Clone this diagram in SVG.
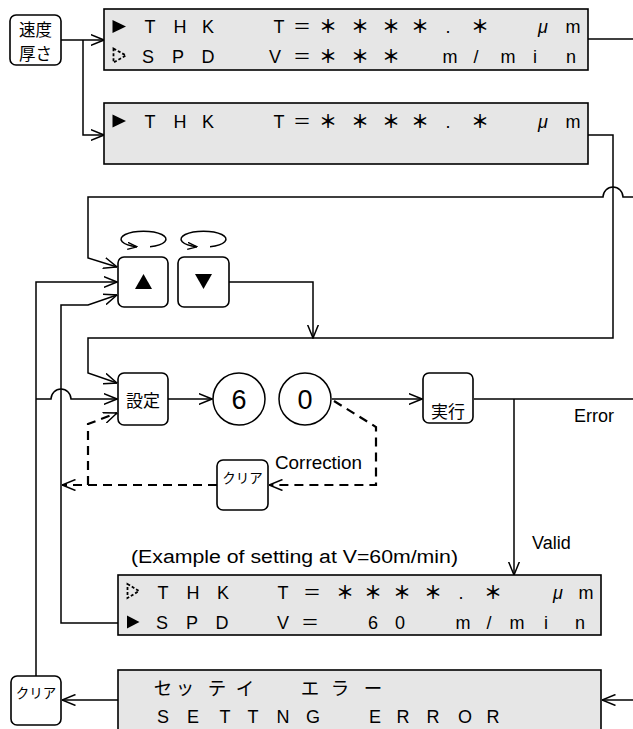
<svg xmlns="http://www.w3.org/2000/svg" width="633" height="729" viewBox="0 0 633 729">
<style>
.lcd{fill:#e6e6e6;stroke:#000;stroke-width:1.6}
.box{fill:#fff;stroke:#000;stroke-width:1.6}
.ln{fill:none;stroke:#000;stroke-width:1.5}
.dash{fill:none;stroke:#000;stroke-width:2.2;stroke-dasharray:9 6}
.lt{font-family:"Liberation Sans","Noto Sans CJK JP",sans-serif;font-size:18px;fill:#000;text-anchor:middle}
.st{font-family:"Noto Sans CJK JP",sans-serif;font-size:18px;font-weight:bold;fill:#000;text-anchor:middle}
.kt{font-family:"Noto Sans CJK JP",sans-serif;font-size:18.5px;fill:#000;text-anchor:middle}
.mu{font-family:"Liberation Sans",sans-serif;font-size:18px;font-style:italic;fill:#000;text-anchor:middle}
.lab{font-family:"Liberation Sans",sans-serif;font-size:18px;fill:#000}
.jp{font-family:"Noto Sans CJK JP",sans-serif;fill:#000;text-anchor:middle}
.dig{font-family:"Liberation Sans",sans-serif;font-size:27px;fill:#000;text-anchor:middle}
.tri{fill:#000}
.otri{fill:none;stroke:#000;stroke-width:1.8;stroke-dasharray:3 2}
</style>
<defs>
<marker id="a" viewBox="0 0 14 12" refX="13.5" refY="6" markerWidth="14" markerHeight="12" markerUnits="userSpaceOnUse" orient="auto">
<path d="M0,0.5 L13.5,6 L0,11.5" fill="none" stroke="#000" stroke-width="1.5" stroke-dasharray="none"/>
</marker>
<marker id="s" viewBox="0 0 10 8" refX="9.5" refY="4" markerWidth="10" markerHeight="8" markerUnits="userSpaceOnUse" orient="auto">
<path d="M0,0.5 L9.5,4 L0,7.5" fill="none" stroke="#000" stroke-width="1.3"/>
</marker>
</defs>

<g id="connectors">
<path class="ln" d="M61,40 H104" marker-end="url(#a)"/>
<path class="ln" d="M83,40 V135 H104" marker-end="url(#a)"/>
<path class="ln" d="M588,39 H633"/>
<path class="ln" d="M588,135 H613 V338 H88 V373 L117,383" marker-end="url(#a)"/>
<path class="ln" d="M633,197 H623 A10,10 0 0 0 603,197 H88 V258 L117,267" marker-end="url(#a)"/>
<path class="ln" d="M229,282 H313 V338" marker-end="url(#a)"/>
<path class="ln" d="M36,676 V282 H117" marker-end="url(#a)"/>
<path class="ln" d="M118,623 H61 V305 H88 L117,295" marker-end="url(#a)"/>
<path class="ln" d="M36,399 H51 A10,10 0 0 1 71,399 H117" marker-end="url(#a)"/>
<path class="ln" d="M168,399 H212" marker-end="url(#a)"/>
<path class="ln" d="M332,399 H422" marker-end="url(#a)"/>
<path class="ln" d="M474,399 H633"/>
<path class="ln" d="M514,399 V575" marker-end="url(#a)"/>
<path class="dash" d="M334,401 L376,427 V485 H269" marker-end="url(#a)"/>
<path class="dash" d="M217,485 H62" marker-end="url(#a)"/>
<path class="dash" d="M88,485 V424 L117,413" marker-end="url(#a)"/>
<path class="ln" d="M633,700 H602" marker-end="url(#a)"/>
<path class="ln" d="M118,700 H62" marker-end="url(#a)"/>
<path class="ln" d="M150,246.8 A22.5,8 0 1 0 137,246.8" marker-end="url(#s)"/>
<path class="ln" d="M210,246.8 A22.5,8 0 1 0 197,246.8" marker-end="url(#s)"/>
</g>

<g id="speed-thickness">
<rect class="box" x="10" y="15" width="51" height="50" rx="6"/>
<text class="jp" x="35.5" y="35.5" font-size="16.5">速度</text>
<text class="jp" x="35.5" y="59.5" font-size="16.5">厚さ</text>
</g>

<g id="lcd1">
<rect class="lcd" x="104" y="9" width="484" height="61"/>
<polygon class="tri" points="112.5,20 126,26.5 112.5,33"/>
<text class="lt" x="150 180 208 279 302" y="33">THKT＝</text>
<text class="st" x="328 360 391 420" y="33">＊＊＊＊</text>
<text class="lt" x="448" y="33">.</text>
<text class="st" x="480" y="33">＊</text>
<text class="mu" x="543" y="33">μ</text>
<text class="lt" x="573" y="33">m</text>
<polygon class="otri" points="113.5,48.5 126,55.5 113.5,62.5"/>
<text class="lt" x="148 178 208 275 302" y="62.5">SPDV＝</text>
<text class="st" x="328 360 391" y="62.5">＊＊＊</text>
<text class="lt" x="450 476 508 535 571" y="62.5">m/min</text>
</g>

<g id="lcd2">
<rect class="lcd" x="104" y="103" width="484" height="61"/>
<polygon class="tri" points="112.5,114.5 126,121 112.5,127.5"/>
<text class="lt" x="150 180 208 279 302" y="127.5">THKT＝</text>
<text class="st" x="328 360 391 420" y="127.5">＊＊＊＊</text>
<text class="lt" x="448" y="127.5">.</text>
<text class="st" x="480" y="127.5">＊</text>
<text class="mu" x="543" y="127.5">μ</text>
<text class="lt" x="573" y="127.5">m</text>
</g>

<g id="up-key">
<rect class="box" x="118" y="257" width="50" height="50" rx="6"/>
<polygon class="tri" points="143.5,274 152,289 135,289"/>
</g>
<g id="down-key">
<rect class="box" x="178" y="257" width="51" height="50" rx="6"/>
<polygon class="tri" points="195,274 212,274 203.5,289"/>
</g>

<g id="set-key">
<rect class="box" x="118" y="373" width="50" height="52" rx="6"/>
<text class="jp" x="143" y="407" font-size="17">設定</text>
</g>

<g id="digit-6">
<circle cx="239" cy="399" r="26" fill="#fff" stroke="#000" stroke-width="1.5"/>
<text class="dig" x="239" y="409">6</text>
</g>
<g id="digit-0">
<circle cx="305" cy="399" r="26" fill="#fff" stroke="#000" stroke-width="1.5"/>
<text class="dig" x="305" y="409">0</text>
</g>

<g id="execute-key">
<rect class="box" x="423" y="373" width="50" height="50" rx="6"/>
<text class="jp" x="448" y="418" font-size="17">実行</text>
</g>

<g id="clear-key-mid">
<rect class="box" x="217" y="460" width="51" height="50" rx="6"/>
<text class="jp" x="242.5" y="483" font-size="13.5">クリア</text>
</g>

<g id="labels">
<text class="lab" x="275" y="469" textLength="87" lengthAdjust="spacingAndGlyphs">Correction</text>
<text class="lab" x="574" y="422">Error</text>
<text class="lab" x="532" y="549">Valid</text>
<text class="lab" x="131" y="563" font-size="19.5" textLength="327" lengthAdjust="spacingAndGlyphs">(Example of setting at V=60m/min)</text>
</g>

<g id="lcd3">
<rect class="lcd" x="118" y="575" width="483" height="60"/>
<polygon class="otri" points="127.5,584 139,591 127.5,598"/>
<text class="lt" x="163 193 223 283 312" y="598.5">THKT＝</text>
<text class="st" x="345 373 402 433" y="598.5">＊＊＊＊</text>
<text class="lt" x="461" y="598.5">.</text>
<text class="st" x="493" y="598.5">＊</text>
<text class="mu" x="558" y="598.5">μ</text>
<text class="lt" x="586" y="598.5">m</text>
<polygon class="tri" points="127,615.5 139.5,622 127,628.5"/>
<text class="lt" x="162 192 222 283 310 373 400 463 489 517 546 580" y="628.5">SPDV＝60m/min</text>
</g>

<g id="error-lcd">
<rect class="lcd" x="118" y="670" width="483" height="70"/>
<text class="kt" x="163 185 217 245 310 340 373" y="695">セッテイエラー</text>
<text class="lt" x="163 193 225 253 283 313 375 403 433 465 493" y="722.5">SETTNGERROR</text>
</g>

<g id="clear-key-bottom">
<rect class="box" x="11" y="676" width="50" height="49" rx="6"/>
<text class="jp" x="36" y="698" font-size="13.5">クリア</text>
</g>
</svg>
